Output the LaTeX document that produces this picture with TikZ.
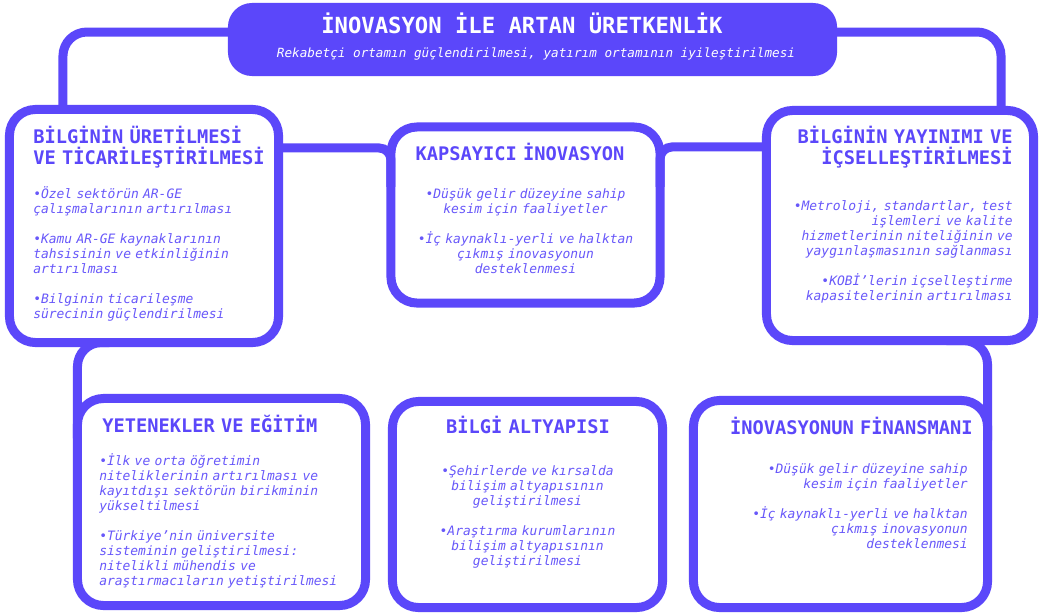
\documentclass[tikz,border=0pt]{standalone}
\usepackage{fontspec}
\setmainfont{DejaVu Sans Mono}
\usepackage{xcolor}
\definecolor{iris}{RGB}{91,71,250}
\definecolor{irislight}{RGB}{104,88,250}
\usepackage{tikz}
\usetikzlibrary{calc}

\newcommand{\itemgap}{\\[11pt]}

\begin{document}
\begin{tikzpicture}[x=0.025cm, y=-0.025cm,
  panel/.style={draw=iris, line width=0.225cm, rounded corners=0.65cm, inner sep=0pt, outer sep=0pt},
  banner/.style={fill=iris, rounded corners=0.6cm, inner sep=0pt, outer sep=0pt, minimum width=15.225cm, minimum height=1.825cm},
  headline/.style={inner sep=0pt, text width=#1, color=iris, font=\fontsize{13.3}{15}\selectfont\bfseries},
  bullets/.style={inner sep=0pt, text width=#1, color=irislight, font=\fontsize{9.2}{10.67}\selectfont\itshape},
  link/.style={draw=iris, line width=0.225cm, rounded corners=0.6cm},
]
  % canvas
  \path[fill=white] (0,0) rectangle (1043,613);

  % top banner
  \node[banner] (title) at (532.5,39.5) {};
  \node[inner sep=0pt, anchor=base, text=white, font=\fontsize{15.8}{18}\selectfont\bfseries] (titletxt) at (522,33) {İNOVASYON İLE ARTAN ÜRETKENLİK};
  \node[inner sep=0pt, anchor=base, text=white, font=\fontsize{9}{11}\selectfont\itshape] (subtxt) at (536,57) {Rekabetçi ortamın güçlendirilmesi, yatırım ortamının iyileştirilmesi};

  % six panels
  \node[panel, minimum width=6.725cm, minimum height=5.825cm] (bil) at (144,226) {};
  \node[panel, minimum width=6.725cm, minimum height=4.4cm] (kap) at (525.5,215) {};
  \node[panel, minimum width=6.675cm, minimum height=5.75cm] (yay) at (900,225.5) {};
  \node[panel, minimum width=7.2cm, minimum height=5.175cm] (yet) at (221.5,502) {};
  \node[panel, minimum width=6.75cm, minimum height=5.15cm] (alt) at (527.5,504.5) {};
  \node[panel, minimum width=7.35cm, minimum height=5.175cm] (fin) at (840.5,504) {};

  % links between panels
  \draw[link] ($(title.west)+(0,-7.5)$) -| ($(bil.north west)+(53.5,0)$);
  \draw[link] ($(title.east)+(0,-7.5)$) -| ($(yay.north east)+(-32.5,0)$);
  \draw[link, rounded corners=0.3cm] ($(bil.north east)+(0,38.5)$) -| ($(kap.north west)+(0,60)$);
  \draw[link, rounded corners=0.3cm] ($(kap.north east)+(0,60)$) |- ($(yay.north west)+(0,36.5)$);
  \draw[link] ($(bil.south west)+(100,0)$) -| ($(yet.north west)+(0,40)$);
  \draw[link] ($(yay.south west)+(180,0)$) -| ($(fin.north east)+(0,40)$);

  % texts
  \node[headline=6cm, align=left, anchor=base west] (bilH) at (33,143) {BİLGİNİN ÜRETİLMESİ\\VE TİCARİLEŞTİRİLMESİ};
  \node[bullets=6cm, align=left, anchor=base west] (bilB) at (33,198) {•Özel sektörün AR-GE\\çalışmalarının artırılması\itemgap
    •Kamu AR-GE kaynaklarının\\tahsisinin ve etkinliğinin\\artırılması\itemgap
    •Bilginin ticarileşme\\sürecinin güçlendirilmesi};

  \node[headline=6cm, align=center, anchor=base] (kapH) at (520,160) {KAPSAYICI İNOVASYON};
  \node[bullets=6cm, align=center, anchor=base] (kapB) at (525.5,198) {•Düşük gelir düzeyine sahip\\kesim için faaliyetler\itemgap
    •İç kaynaklı-yerli ve halktan\\çıkmış inovasyonun\\desteklenmesi};

  \node[headline=6cm, align=right, anchor=base east] (yayH) at (1013,143) {BİLGİNİN YAYINIMI VE\\İÇSELLEŞTİRİLMESİ};
  \node[bullets=6cm, align=right, anchor=base east] (yayB) at (1013,210) {•Metroloji, standartlar, test\\işlemleri ve kalite\\hizmetlerinin niteliğinin ve\\yaygınlaşmasının sağlanması\itemgap
    •KOBİ’lerin içselleştirme\\kapasitelerinin artırılması};

  \node[headline=6.5cm, align=left, anchor=base west] (yetH) at (102,432) {YETENEKLER VE EĞİTİM};
  \node[bullets=6.5cm, align=left, anchor=base west] (yetB) at (99,465) {•İlk ve orta öğretimin\\niteliklerinin artırılması ve\\kayıtdışı sektörün birikminin\\yükseltilmesi\itemgap
    •Türkiye’nin üniversite\\sisteminin geliştirilmesi:\\nitelikli mühendis ve\\araştırmacıların yetiştirilmesi};

  \node[headline=6cm, align=center, anchor=base] (altH) at (528,433) {BİLGİ ALTYAPISI};
  \node[bullets=6cm, align=center, anchor=base] (altB) at (527.5,475) {•Şehirlerde ve kırsalda\\bilişim altyapısının\\geliştirilmesi\itemgap
    •Araştırma kurumlarının\\bilişim altyapısının\\geliştirilmesi};

  \node[headline=6.5cm, align=right, anchor=base east] (finH) at (973,434) {İNOVASYONUN FİNANSMANI};
  \node[bullets=6.5cm, align=right, anchor=base east] (finB) at (968,473) {•Düşük gelir düzeyine sahip\\kesim için faaliyetler\itemgap
    •İç kaynaklı-yerli ve halktan\\çıkmış inovasyonun\\desteklenmesi};
\end{tikzpicture}
\end{document}
